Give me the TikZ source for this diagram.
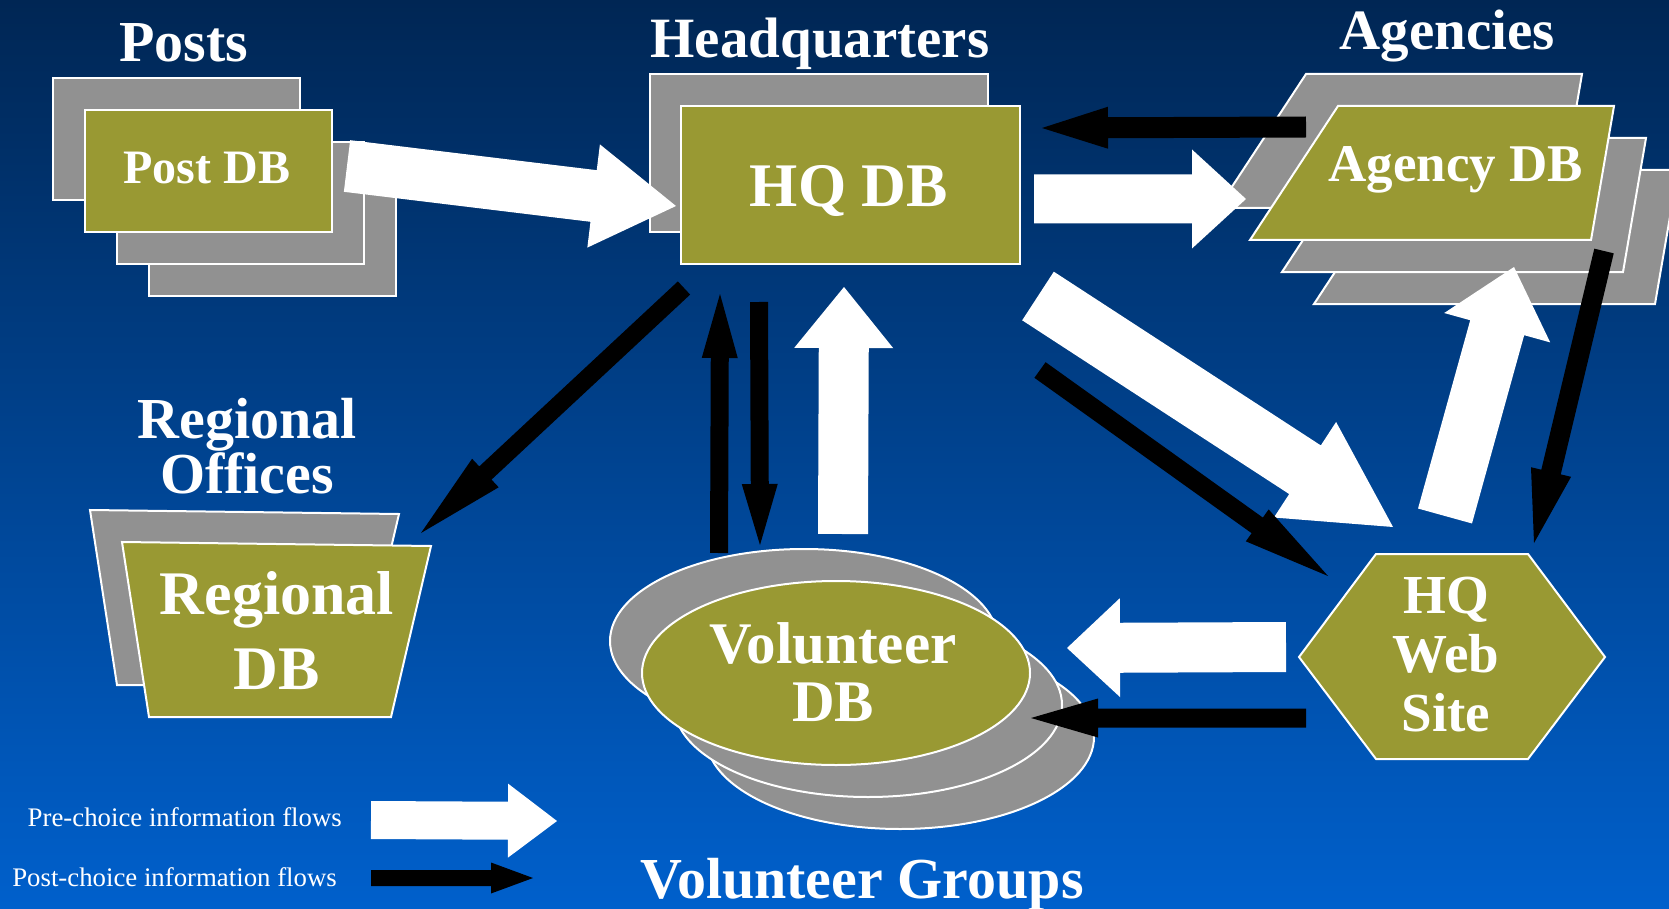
\documentclass[tikz,border=0pt]{standalone}
\usepackage{fontspec}
\setmainfont{Liberation Serif}
\usetikzlibrary{calc}
\definecolor{bgtop}{RGB}{0,38,84}
\definecolor{bgmid}{RGB}{0,74,154}
\definecolor{bgbot}{RGB}{0,96,204}
\definecolor{dbgreen}{RGB}{153,153,51}
\definecolor{stackgrey}{RGB}{145,145,145}
\tikzset{
  stack/.style={fill=stackgrey, draw=white, line width=2pt},
  dbshape/.style={fill=dbgreen, draw=white, line width=2pt},
  heading/.style={text=white, inner sep=0pt, anchor=base, font=\bfseries\fontsize{#1}{#1}\selectfont},
  dbtext/.style 2 args={text=white, inner sep=0pt, align=center, font=\bfseries\fontsize{#1}{#2}\selectfont},
  keytext/.style={text=white, inner sep=0pt, anchor=base east, font=\fontsize{26.8}{26.8}\selectfont},
  pre/.style={fill=white},
  post/.style={fill=black}
}
% block arrow: style, from, to, half shaft, half head, head length
\newcommand{\flowarrow}[6]{%
  \coordinate (fa-base) at ($(#3)!#6!(#2)$);
  \fill[#1] ($(#2)!#4!90:(#3)$) -- ($(fa-base)!#4!90:(#3)$) -- ($(fa-base)!#5!90:(#3)$) -- (#3)
    -- ($(fa-base)!#5!-90:(#3)$) -- ($(fa-base)!#4!-90:(#3)$) -- ($(#2)!#4!-90:(#3)$) -- cycle;}

\begin{document}
\begin{tikzpicture}[x=1pt, y=-1pt]
\useasboundingbox (0,0) rectangle (1669,909);
\clip (0,0) rectangle (1669,909);
\shade[top color=bgtop, middle color=bgmid, bottom color=bgbot] (0,0) rectangle (1669,909);

% Posts
\foreach \d in {3,2,0} {
 \draw[stack] (53+32*\d,78+32*\d) rectangle ++(247,122);
}
\draw[dbshape] (85,110) rectangle ++(247,122);
\node[heading=58] (posts) at (184,62) {Posts};
\node[heading=48] (postdb) at (207,184) {Post DB};

% Headquarters
\draw[stack] (650,74) rectangle ++(338,158);
\draw[dbshape] (681,106) rectangle (1020,264);
\node[heading=57] (hq) at (820,58) {Headquarters};
\node[heading=62] (hqdb) at (849,207) {HQ DB};

% Agencies
\foreach \d in {2,1,-1} {
 \draw[stack] (1338+32*\d,106+32*\d) -- ++(276,0) -- ++(-23,134) -- ++(-341,0) -- cycle;
}
\draw[dbshape] (1338,106) -- ++(276,0) -- ++(-23,134) -- ++(-341,0) -- cycle;
\node[heading=57] (agencies) at (1447,50) {Agencies};
\node[heading=53] (agencydb) at (1456,182) {Agency DB};

% Regional offices
\draw[stack] (90,510) -- (399,514) -- (359,685) -- (117,685) -- cycle;
\draw[dbshape] (122,542) -- (431,546) -- (391,717) -- (149,717) -- cycle;
\node[dbtext={58}{55}] (regional) at (247,446.5) {Regional\\Offices};
\node[dbtext={62}{75}] (regionaldb) at (277,630.5) {Regional\\DB};

% Volunteer groups
\foreach \d in {2,1,-1} {
 \draw[stack] (836+32*\d,673+32*\d) ellipse [x radius=194pt, y radius=92pt];
}
\draw[dbshape] (836,673) ellipse [x radius=194pt, y radius=92pt];
\node[dbtext={59}{58}] (volunteerdb) at (833,672) {Volunteer\\DB};
\node[heading=58] (volunteers) at (862,898) {Volunteer Groups};

% HQ web site
\draw[dbshape] (1376,554) -- (1528,554) -- (1605,657) -- (1528,759) -- (1376,759) -- (1299,657) -- cycle;
\node[dbtext={55}{59}] (website) at (1446,655) {HQ\\Web\\Site};

% flow end points
\coordinate (post-e) at (347,166);   \coordinate (hq-w) at (676,206);
\coordinate (hq-e) at (1034,199);    \coordinate (ag-w) at (1246,199);
\coordinate (vol-n) at (843,534);    \coordinate (hq-s) at (844,287);
\coordinate (hq-se) at (1038,296);   \coordinate (web-nw) at (1393,527);
\coordinate (web-n) at (1445,516);   \coordinate (ag-s) at (1514,267);
\coordinate (web-w) at (1286,647);   \coordinate (vol-e) at (1067,648);
\coordinate (ag-wb) at (1306,127);   \coordinate (hq-eb) at (1042,128);
\coordinate (hq-sw) at (684,288);    \coordinate (reg-ne) at (421,533);
\coordinate (vol-nb) at (719,553);   \coordinate (hq-sb) at (720,294);
\coordinate (hq-sc) at (759,302);    \coordinate (vol-nc) at (760,545);
\coordinate (hq-seb) at (1040,370);  \coordinate (web-nwb) at (1328,576);
\coordinate (ag-se) at (1604,251);   \coordinate (web-ne) at (1534,543);
\coordinate (web-wb) at (1306,718);  \coordinate (vol-eb) at (1031,718);

% pre-choice flows
\foreach \a/\b/\w/\h/\l in {post-e/hq-w/26/52/83, hq-e/ag-w/24.5/49.5/54, vol-n/hq-s/25/49.5/61,
  hq-se/web-nw/29/57/105, web-n/ag-s/28/55/63, web-w/vol-e/25/49.5/53} {
 \flowarrow{pre}{\a}{\b}{\w pt}{\h pt}{\l pt}
}
% post-choice flows
\foreach \a/\b/\w/\h/\l in {ag-wb/hq-eb/10.5/21/66, hq-sw/reg-ne/9/19.5/88, vol-nb/hq-sb/9/18/64,
  hq-sc/vol-nc/9/18/61, hq-seb/web-nwb/9.6/19.6/87, ag-se/web-ne/10/20.6/73, web-wb/vol-eb/9.5/19.5/67} {
 \flowarrow{post}{\a}{\b}{\w pt}{\h pt}{\l pt}
}

% key
\node[keytext] (keypre) at (342,826) {Pre-choice information flows};
\node[keytext] (keypost) at (337,886) {Post-choice information flows};
\coordinate (keypre-a) at (371,820);  \coordinate (keypre-b) at (557,821);
\coordinate (keypost-a) at (371,878); \coordinate (keypost-b) at (533,878);
\flowarrow{pre}{keypre-a}{keypre-b}{19pt}{37pt}{49pt}
\flowarrow{post}{keypost-a}{keypost-b}{8pt}{15.5pt}{42pt}
\end{tikzpicture}
\end{document}
